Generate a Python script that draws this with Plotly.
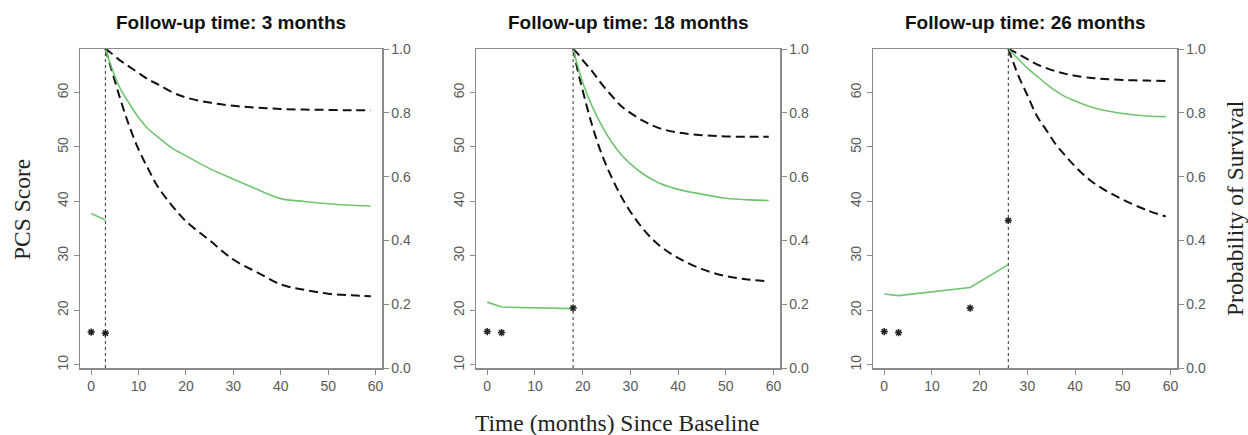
import plotly.graph_objects as go

# ---------------- data ----------------
followup = [3, 18, 26]
panel_titles = ["Follow-up time: 3 months", "Follow-up time: 18 months", "Follow-up time: 26 months"]

# observed PCS scores (asterisks)
obs_t = [[0, 3], [0, 3, 18], [0, 3, 18, 26]]
obs_pcs = [[16.0, 15.8], [16.1, 15.9, 20.4], [16.1, 15.9, 20.4, 36.5]]

# fitted PCS trajectory (green, left axis)
fit_t = [[0, 3], [0, 3, 18], [0, 3, 18, 26]]
fit_pcs = [[37.8, 36.6], [21.5, 20.6, 20.3], [23.0, 22.7, 24.2, 28.4]]

# conditional survival (right axis)
surv_t1 = [3, 4, 6, 8, 10, 12, 14, 17, 20, 25, 30, 35, 40, 45, 50, 55, 59]
surv_mid1 = [1.0, 0.955, 0.88, 0.83, 0.785, 0.75, 0.725, 0.69, 0.665, 0.625, 0.592, 0.56, 0.531, 0.522, 0.515, 0.51, 0.508]
surv_up1 = [1.0, 0.99, 0.965, 0.945, 0.925, 0.905, 0.89, 0.865, 0.848, 0.832, 0.822, 0.816, 0.812, 0.81, 0.809, 0.808, 0.808]
surv_lo1 = [1.0, 0.95, 0.85, 0.76, 0.685, 0.625, 0.57, 0.51, 0.46, 0.4, 0.34, 0.3, 0.262, 0.245, 0.233, 0.228, 0.225]

surv_t2 = [18, 19, 20, 22, 24, 26, 28, 30, 33, 36, 40, 45, 50, 55, 59]
surv_mid2 = [1.0, 0.945, 0.895, 0.82, 0.76, 0.71, 0.67, 0.64, 0.605, 0.58, 0.56, 0.545, 0.532, 0.527, 0.525]
surv_up2 = [1.0, 0.985, 0.965, 0.93, 0.89, 0.855, 0.822, 0.8, 0.772, 0.752, 0.738, 0.73, 0.726, 0.725, 0.725]
surv_lo2 = [1.0, 0.93, 0.87, 0.76, 0.67, 0.6, 0.54, 0.49, 0.43, 0.385, 0.345, 0.31, 0.288, 0.277, 0.272]

surv_t3 = [26, 27, 28, 30, 32, 34, 36, 38, 40, 43, 46, 50, 55, 59]
surv_mid3 = [1.0, 0.985, 0.97, 0.94, 0.915, 0.89, 0.868, 0.85, 0.837, 0.82, 0.808, 0.798, 0.79, 0.788]
surv_up3 = [1.0, 0.993, 0.985, 0.968, 0.952, 0.94, 0.93, 0.922, 0.916, 0.91, 0.906, 0.903, 0.901, 0.9]
surv_lo3 = [1.0, 0.96, 0.92, 0.855, 0.79, 0.745, 0.7, 0.665, 0.632, 0.59, 0.56, 0.528, 0.495, 0.475]

surv_t = [surv_t1, surv_t2, surv_t3]
surv_mid = [surv_mid1, surv_mid2, surv_mid3]
surv_up = [surv_up1, surv_up2, surv_up3]
surv_lo = [surv_lo1, surv_lo2, surv_lo3]

x_ticks = [0, 10, 20, 30, 40, 50, 60]
pcs_ticks = [10, 20, 30, 40, 50, 60]
surv_ticks = [0.0, 0.2, 0.4, 0.6, 0.8, 1.0]

# ---------------- figure ----------------
W, H = 1248, 435
GREEN = "#70c470"
AXC = "#8a8a8a"
TXC = "#5a5a5a"
px_domains = [(80, 382), (476, 780), (873, 1177)]
ydom = [1 - 368 / H, 1 - 49 / H]
TICKFONT = dict(size=14, color=TXC, family="Liberation Sans, Arial, sans-serif")

fig = go.Figure()
layout = dict(
    template="none",
    width=W, height=H, margin=dict(l=0, r=0, t=0, b=0, pad=0),
    paper_bgcolor="white", plot_bgcolor="white", showlegend=False,
    font=dict(family="Liberation Sans, Arial, sans-serif", color=TXC, size=14),
)

for i in range(3):
    n = i + 1
    xa = "x" if n == 1 else f"x{n}"
    yl = "y" if n == 1 else f"y{2*n-1}"
    yr = f"y{2*n}"
    xk = "xaxis" if n == 1 else f"xaxis{n}"
    ylk = "yaxis" if n == 1 else f"yaxis{2*n-1}"
    yrk = f"yaxis{2*n}"

    d0, d1 = px_domains[i]
    layout[xk] = dict(
        domain=[d0 / W, d1 / W], anchor=yl, range=[-2.36, 61.36], automargin=False,
        tickvals=x_ticks, ticks="outside", ticklen=5, tickcolor=AXC, tickwidth=1,
        showline=True, linecolor=AXC, linewidth=1.5, mirror=True,
        showgrid=False, zeroline=False, tickfont=TICKFONT,
    )
    layout[ylk] = dict(
        domain=ydom, anchor=xa, range=[9.4, 68.0], automargin=False,
        tickvals=pcs_ticks, ticks="outside", ticklen=5, tickcolor=AXC, tickwidth=1,
        tickangle=-90, showline=True, linecolor=AXC, linewidth=1.5, mirror=True,
        showgrid=False, zeroline=False, tickfont=TICKFONT,
    )
    layout[yrk] = dict(
        domain=ydom, anchor=xa, overlaying=yl, side="right", range=[0, 1], automargin=False,
        tickvals=surv_ticks, ticktext=[f"{v:.1f}" for v in surv_ticks],
        ticks="outside", ticklen=5, tickcolor=AXC, tickwidth=1,
        showline=True, linecolor=AXC, linewidth=1.5,
        showgrid=False, zeroline=False, tickfont=TICKFONT,
    )

    # fitted PCS trajectory
    fig.add_trace(go.Scatter(x=fit_t[i], y=fit_pcs[i], mode="lines",
                             line=dict(color=GREEN, width=1.6), xaxis=xa, yaxis=yl))
    # observed PCS
    fig.add_trace(go.Scatter(x=obs_t[i], y=obs_pcs[i], mode="markers",
                             marker=dict(symbol="asterisk-open", size=6, color="#222222",
                                         line=dict(color="#222222", width=1.5)),
                             xaxis=xa, yaxis=yl))
    # survival curves
    fig.add_trace(go.Scatter(x=surv_t[i], y=surv_up[i], mode="lines",
                             line=dict(color="#111111", width=2, dash="9px,5px", shape="spline"),
                             xaxis=xa, yaxis=yr))
    fig.add_trace(go.Scatter(x=surv_t[i], y=surv_lo[i], mode="lines",
                             line=dict(color="#111111", width=2, dash="9px,5px", shape="spline"),
                             xaxis=xa, yaxis=yr))
    fig.add_trace(go.Scatter(x=surv_t[i], y=surv_mid[i], mode="lines",
                             line=dict(color=GREEN, width=1.6, shape="spline"),
                             xaxis=xa, yaxis=yr))
    # vertical dotted line at follow-up time
    fig.add_shape(type="line", xref=xa, yref=f"{yl} domain",
                  x0=followup[i], x1=followup[i], y0=0, y1=1,
                  line=dict(color="#333333", width=1, dash="dot"))

annotations = []
for i in range(3):
    d0, d1 = px_domains[i]
    annotations.append(dict(
        text=f"<b>{panel_titles[i]}</b>", x=(d0 + d1) / 2 / W, y=1 - 22 / H,
        xref="paper", yref="paper", showarrow=False, xanchor="center", yanchor="middle",
        font=dict(family="Liberation Sans, Arial, sans-serif", size=19, color="#111111"),
    ))
serif = dict(family="Liberation Serif, Times New Roman, serif", size=23.5, color="#222222")
annotations.append(dict(text="PCS Score", x=22 / W, y=1 - 210 / H, xref="paper", yref="paper",
                        showarrow=False, textangle=-90, xanchor="center", yanchor="middle", font=serif))
annotations.append(dict(text="Probability of Survival", x=1235 / W, y=1 - 208 / H, xref="paper",
                        yref="paper", showarrow=False, textangle=-90, xanchor="center",
                        yanchor="middle", font=serif))
annotations.append(dict(text="Time (months) Since Baseline", x=617 / W, y=1 - 423 / H,
                        xref="paper", yref="paper", showarrow=False, xanchor="center",
                        yanchor="middle", font=serif))
layout["annotations"] = annotations

fig.update_layout(**layout)
fig.write_html("out.html", config={"displayModeBar": False, "staticPlot": True},
               post_script="document.body.style.margin='0';document.body.style.overflow='hidden';")
